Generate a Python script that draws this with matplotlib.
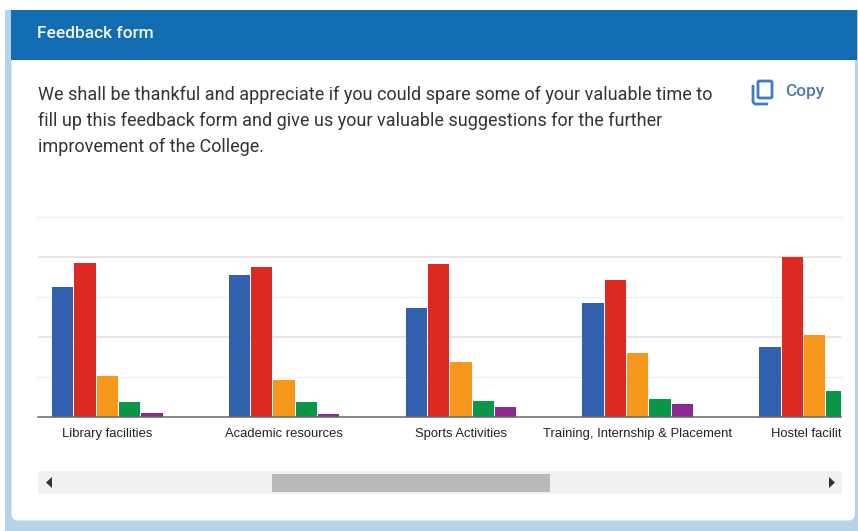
import numpy as np
import matplotlib
matplotlib.use("Agg")
import matplotlib.pyplot as plt
from matplotlib.patches import Rectangle, FancyBboxPatch, Polygon
from matplotlib.transforms import Bbox, TransformedBbox

categories = ["Library facilities", "Academic resources", "Sports Activities",
              "Training, Internship & Placement", "Hostel facilities"]
series_a = [65.0, 71.0, 54.4, 56.8, 34.7]
series_b = [77.0, 74.7, 76.5, 68.3, 80.0]
series_c = [20.3, 18.1, 27.3, 32.0, 40.7]
series_d = [7.1, 7.1, 7.8, 8.7, 12.6]
series_e = [1.6, 1.1, 4.8, 6.5, np.nan]
series = [series_a, series_b, series_c, series_d, series_e]
colors = ["#3060ae", "#dc2a22", "#f7981d", "#0a9647", "#8c2a91"]
major_grid = [40, 80]
minor_grid = [20, 60, 100]

W, H = 858, 531
fig = plt.figure(figsize=(W / 100, H / 100), dpi=100, facecolor="white")

# Page chrome in pixel coordinates
bg = fig.add_axes([0, 0, 1, 1])
bg.set_xlim(0, W)
bg.set_ylim(H, 0)
bg.axis("off")
bg.add_patch(Rectangle((5, 10), W - 5, H - 10, color="#b5d4ea", lw=0))
bg.add_patch(FancyBboxPatch((16.5, 15), 833.5, 500.5, boxstyle="round,pad=5,rounding_size=7",
                            fc="white", ec="none"))
bg.add_patch(Rectangle((11, 10), 845.5, 49.5, color="#116cb2", lw=0))
bg.text(37, 33, "Feedback form", color="#f2f6fa", fontsize=12.55, family="Roboto",
        fontweight="medium", va="center", ha="left")
lines = ["We shall be thankful and appreciate if you could spare some of your valuable time to",
         "fill up this feedback form and give us your valuable suggestions for the further",
         "improvement of the College."]
for yy, line in zip([95, 121, 147], lines):
    bg.text(38, yy, line, color="#333338", fontsize=12.95, family="Roboto", va="center", ha="left")
bg.text(785, 91.5, "Copy", color="#5078b8", fontsize=12.4, family="Roboto", fontweight="medium",
        va="center", ha="left")
icon = "#3f7cc4"
bg.add_patch(FancyBboxPatch((758, 81), 14, 17, boxstyle="round,pad=0,rounding_size=1.5",
                            fc="white", ec=icon, lw=2))
bg.plot([753, 753, 755, 767], [86, 102, 104, 104], color=icon, lw=2, solid_capstyle="round")

# Scrollbar
bg.add_patch(Rectangle((38, 471), 803.5, 23, color="#f1f1f1", lw=0))
bg.add_patch(Rectangle((271.5, 473.5), 278.5, 18.5, color="#b9b9b9", lw=0))
bg.add_patch(Polygon([[52, 477], [52, 488], [46, 482.5]], color="#333333", lw=0))
bg.add_patch(Polygon([[829, 477], [829, 488], [835, 482.5]], color="#333333", lw=0))

# Chart: pixel frame 38..841 x 217..416.5
x0, x1, ytop, ybot = 38, 841, 217, 416.5
ax = fig.add_axes([x0 / W, 1 - ybot / H, (x1 - x0) / W, (ybot - ytop) / H])
ax.patch.set_alpha(0)
step_px, first_center, bar_step_px, bar_w_px = 176.8, 107.25, 22.3, 21.3
ax.set_xlim((x0 - first_center) / step_px, (x1 - first_center) / step_px)
ax.set_ylim(0, 100)
pos = np.arange(len(categories))
ax.set_axisbelow(True)
for i, (vals, c) in enumerate(zip(series, colors)):
    ax.bar(pos + (i - 2) * bar_step_px / step_px, vals, width=bar_w_px / step_px,
           color=c, lw=0, zorder=3)
ax.set_yticks(major_grid)
ax.set_yticks(minor_grid, minor=True)
ax.grid(True, which="major", axis="y", color="#e4e0e4", lw=1.2)
ax.grid(True, which="minor", axis="y", color="#f1f0f1", lw=1.0)
for tick in ax.yaxis.get_minor_ticks():
    tick.gridline.set_clip_on(False)
ax.tick_params(axis="y", which="both", length=0, labelleft=False)
ax.tick_params(axis="x", length=0, pad=8)
ax.set_xticks(pos)
ax.set_xticklabels(categories, fontsize=9.4, family="Liberation Sans", color="#222222")
clip = TransformedBbox(Bbox([[0, -0.2], [1, 1]]), ax.transAxes)
for lab in ax.get_xticklabels():
    lab.set_clip_box(clip)
    lab.set_clip_on(True)
for s in ["top", "left", "right"]:
    ax.spines[s].set_visible(False)
ax.spines["bottom"].set_color("#666666")
ax.spines["bottom"].set_linewidth(1.1)
ax.spines["bottom"].set_zorder(5)

fig.savefig("out.png", dpi=100, facecolor="white")
